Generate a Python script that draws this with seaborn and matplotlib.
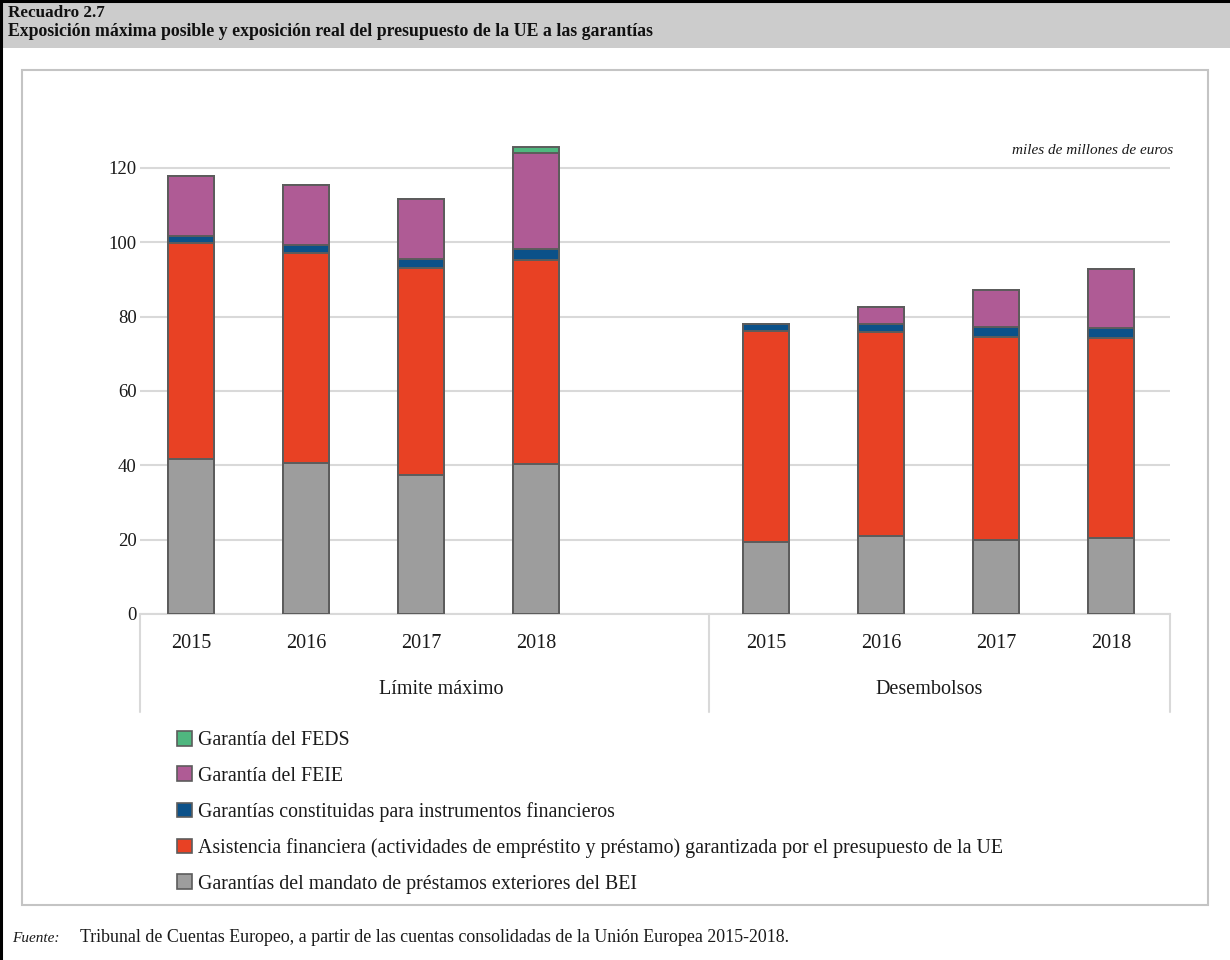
import matplotlib
matplotlib.use("Agg")
import matplotlib.pyplot as plt
import seaborn as sns
import pandas as pd
from matplotlib.patches import Rectangle, Patch
from matplotlib.lines import Line2D

# ---- data (miles de millones de euros) ----
groups = ["Límite máximo", "Desembolsos"]
years = ["2015", "2016", "2017", "2018"]
positions = [0, 1, 2, 3, 5, 6, 7, 8]          # slot 4 left empty between the two groups

bei = [41.7, 40.6, 37.4, 40.4, 19.4, 21.0, 19.9, 20.4]
asistencia = [58.2, 56.4, 55.7, 54.8, 56.7, 54.9, 54.6, 53.8]
instrumentos = [1.8, 2.3, 2.5, 2.9, 2.0, 2.1, 2.6, 2.7]
feie = [16.2, 16.1, 16.0, 25.8, 0.0, 4.6, 10.2, 15.9]
feds = [0.0, 0.0, 0.0, 1.7, 0.0, 0.0, 0.0, 0.0]

series_names = [
    "Garantías del mandato de préstamos exteriores del BEI",
    "Asistencia financiera (actividades de empréstito y préstamo) garantizada por el presupuesto de la UE",
    "Garantías constituidas para instrumentos financieros",
    "Garantía del FEIE",
    "Garantía del FEDS",
]
series_values = [bei, asistencia, instrumentos, feie, feds]
colors = ["#9d9d9d", "#e84124", "#0b5189", "#af5b95", "#4fb77f"]

sns.set_theme(style="white")
plt.rcParams["font.family"] = ["Liberation Serif", "DejaVu Serif"]

W, H = 1230, 960
fig = plt.figure(figsize=(W / 100, H / 100), dpi=100)

def fx(px):
    return px / W

def fy(py):
    return 1 - py / H

# ---- frame: header band, black outline, grey chart box ----
fig.patches.append(Rectangle((0, fy(48)), 1, 48 / H, transform=fig.transFigure,
                             facecolor="#cccccc", edgecolor="none", zorder=0))
fig.lines.append(Line2D([fx(1), fx(1)], [0, 1], transform=fig.transFigure,
                        color="black", lw=2.2))
fig.lines.append(Line2D([0, 1], [fy(1), fy(1)], transform=fig.transFigure,
                        color="black", lw=2.2))
fig.patches.append(Rectangle((fx(22), fy(905)), fx(1208) - fx(22), (905 - 70) / H,
                             transform=fig.transFigure, facecolor="none",
                             edgecolor="#c4c4c4", lw=1.5, zorder=0))

fig.text(fx(8), fy(13), "Recuadro 2.7", fontsize=12.3, fontweight="bold",
         va="center", ha="left", color="#111111")
fig.text(fx(8), fy(31),
         "Exposición máxima posible y exposición real del presupuesto de la UE a las garantías",
         fontsize=12.8, fontweight="bold", va="center", ha="left", color="#111111")

# ---- plot area ----
ax_left, ax_right, ax_bottom, ax_top = 140, 1170, 614, 100
ax = fig.add_axes([fx(ax_left), fy(ax_bottom), fx(ax_right - ax_left),
                   (ax_bottom - ax_top) / H])

# stacked bars: draw cumulative totals from the top segment down
cum = []
running = [0.0] * len(positions)
for vals in series_values:
    running = [r + v for r, v in zip(running, vals)]
    cum.append(list(running))

for name, tops, col in reversed(list(zip(series_names, cum, colors))):
    df = pd.DataFrame({"pos": positions, "valor": tops})
    sns.barplot(data=df, x="pos", y="valor", native_scale=True, width=0.4,
                color=col, saturation=1, edgecolor="#5c5c5c", linewidth=1.4,
                errorbar=None, ax=ax, zorder=3)

ax.set_xlim(-0.4435, 8.513)
ax.set_ylim(0, (ax_bottom - ax_top) / 3.717)
ax.set_yticks([0, 20, 40, 60, 80, 100, 120])
ax.set_yticklabels(["0", "20", "40", "60", "80", "100", "120"], fontsize=13.5,
                   color="#1a1a1a")
ax.tick_params(axis="y", length=0, pad=2.5)
ax.set_xticks([])
ax.set_xlabel("")
ax.set_ylabel("")
ax.grid(axis="y", color="#d9d9d9", lw=1.5, zorder=0)
ax.set_axisbelow(True)
for side in ["top", "right", "left"]:
    ax.spines[side].set_visible(False)
ax.spines["bottom"].set_color("#d9d9d9")
ax.spines["bottom"].set_linewidth(1.5)

# multi-level category axis
xt = ax.get_xaxis_transform()
depth = (712 - ax_bottom) / (ax_bottom - ax_top)
for xv in [ax.get_xlim()[0], 4.5, ax.get_xlim()[1]]:
    ax.plot([xv, xv], [0, -depth], transform=xt, color="#d9d9d9", lw=1.5,
            clip_on=False)
yr_y = -(643 - ax_bottom) / (ax_bottom - ax_top)
grp_y = -(690 - ax_bottom) / (ax_bottom - ax_top)
for i, p in enumerate(positions):
    ax.text(p, yr_y, years[i % 4], transform=xt, ha="center", va="center",
            fontsize=14.5, color="#1a1a1a")
ax.text(2.18, grp_y, groups[0], transform=xt, ha="center", va="center",
        fontsize=14.5, color="#1a1a1a")
ax.text(6.42, grp_y, groups[1], transform=xt, ha="center", va="center",
        fontsize=14.5, color="#1a1a1a")

fig.text(fx(1173), fy(150), "miles de millones de euros", fontsize=11,
         style="italic", ha="right", va="center", color="#1a1a1a")

# ---- legend ----
handles = [Patch(facecolor=c, edgecolor="#5c5c5c", lw=1.2, label=n)
           for n, c in reversed(list(zip(series_names, colors)))]
fig.legend(handles=handles, loc="upper left", bbox_to_anchor=(fx(177), fy(731)),
           frameon=False, fontsize=14.3, handlelength=0.75, handleheight=0.75,
           handletextpad=0.3, labelspacing=0.82, borderaxespad=0, borderpad=0,
           labelcolor="#1a1a1a")

# ---- source ----
fig.text(fx(12), fy(938), "Fuente:", fontsize=11, style="italic", va="center",
         ha="left", color="#1a1a1a")
fig.text(fx(80), fy(938),
         "Tribunal de Cuentas Europeo, a partir de las cuentas consolidadas de la Unión Europea 2015-2018.",
         fontsize=12.9, va="center", ha="left", color="#1a1a1a")

fig.savefig("out.png", dpi=100, facecolor="white")
